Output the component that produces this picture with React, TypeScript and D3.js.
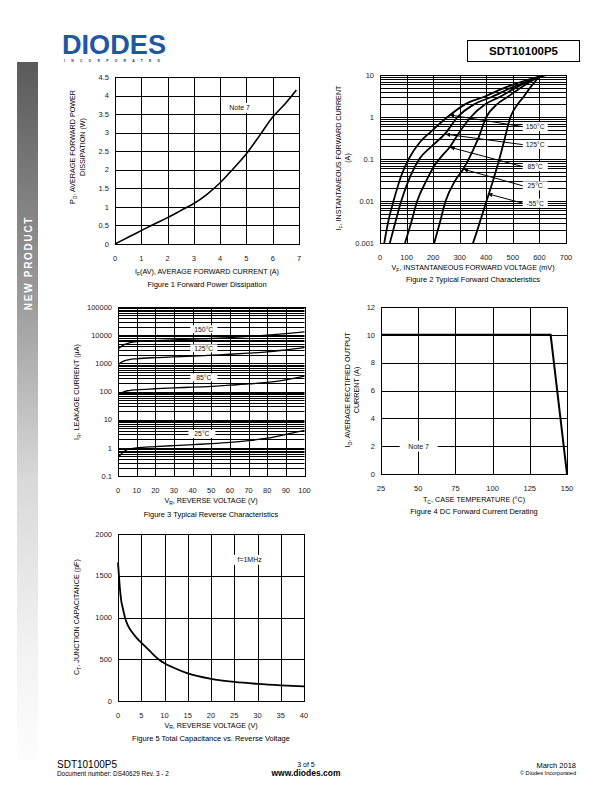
import React from "react";
import * as d3 from "d3";

const FONT = "'Liberation Sans', Arial, Helvetica, sans-serif";

// ---- Figure 1: forward power dissipation
const pdCurrent = [0, 0.5, 1, 1.5, 2, 2.5, 3, 3.5, 4, 4.5, 5, 5.5, 6, 6.5, 6.9];
const pdPower = [0, 0.18, 0.36, 0.54, 0.71, 0.9, 1.09, 1.34, 1.65, 2.03, 2.43, 2.92, 3.42, 3.8, 4.15];
const pdXTicks = [0, 1, 2, 3, 4, 5, 6, 7];
const pdYTicks = [0, 0.5, 1, 1.5, 2, 2.5, 3, 3.5, 4, 4.5];

// ---- Figure 2: forward characteristics (mV, A)
const vfTicks = [0, 100, 200, 300, 400, 500, 600, 700];
const ifTicks = [0.001, 0.01, 0.1, 1, 10];
const vf150 = [16, 30, 51, 80, 108, 150, 192, 254, 320, 390, 470, 550, 625];
const if150 = [0.001, 0.003, 0.01, 0.04, 0.1, 0.25, 0.45, 1, 2, 3, 5, 7.5, 10];
const vf125 = [37, 57, 80, 115, 148, 194, 245, 292, 354, 420, 495, 565, 620];
const if125 = [0.001, 0.003, 0.01, 0.04, 0.1, 0.2, 0.4, 1, 2, 3, 5, 7.5, 10];
const vf85 = [94, 117, 140, 174, 205, 234, 262, 295, 342, 396, 450, 512, 570, 615];
const if85 = [0.001, 0.003, 0.01, 0.03, 0.07, 0.12, 0.19, 0.4, 1, 2, 3, 5, 7.5, 10];
const vf25 = [204, 225, 247, 282, 313, 343, 369, 400, 440, 480, 530, 575, 610];
const if25 = [0.001, 0.003, 0.01, 0.03, 0.057, 0.13, 0.3, 1, 2, 3, 5, 7.5, 10];
const vfm55 = [350, 366, 381, 405, 425, 445, 466, 491, 518, 540, 565, 588, 605];
const ifm55 = [0.001, 0.002, 0.004, 0.012, 0.03, 0.08, 0.25, 1, 2, 3, 5, 7.5, 10];
const fwdNames = ["150°C", "125°C", "85°C", "25°C", "-55°C"];
const fwdLabelV = [537, 537, 537, 537, 537];
const fwdLabelI = [0.59, 0.22, 0.066, 0.023, 0.0089];
const fwdTipV = [262, 247, 264, 315, 406];
const fwdTipI = [1.12, 0.39, 0.19, 0.057, 0.0148];

// ---- Figure 3: reverse characteristics (V, uA)
const vrTicks = [0, 10, 20, 30, 40, 50, 60, 70, 80, 90, 100];
const irTicks = [0.1, 1, 10, 100, 1000, 10000, 100000];
const vrPts = [0, 3, 6, 10, 20, 30, 40, 50, 60, 70, 80, 90, 100];
const ir150 = [3200, 4500, 5300, 5900, 6400, 6800, 7200, 7600, 8200, 9000, 10000, 11300, 13000];
const ir125 = [900, 1200, 1350, 1450, 1600, 1700, 1800, 1950, 2100, 2300, 2550, 3000, 3600];
const ir85 = [75, 98, 108, 115, 125, 135, 142, 152, 168, 185, 210, 260, 350];
const ir25 = [0.45, 0.72, 0.92, 1.0, 1.1, 1.2, 1.3, 1.4, 1.55, 1.8, 2.2, 3.0, 4.2];
const revNames = ["150°C", "125°C", "85°C", "25°C"];
const revLabelV = [46, 46, 46, 45];
const revLabelI = [16200, 3400, 316, 3.1];

// ---- Figure 4: derating
const tcTicks = [25, 50, 75, 100, 125, 150];
const ioTicks = [0, 2, 4, 6, 8, 10, 12];
const deratTemp = [25, 139, 150];
const deratCurrent = [10, 10, 0];

// ---- Figure 5: capacitance
const ctVTicks = [0, 5, 10, 15, 20, 25, 30, 35, 40];
const ctTicks = [0, 500, 1000, 1500, 2000];
const ctVolt = [0, 0.3, 0.7, 1, 1.5, 2, 3, 4, 5, 6, 7, 8, 9, 10, 12, 15, 20, 25, 30, 35, 40];
const ctCap = [1660, 1420, 1200, 1120, 1000, 920, 825, 755, 700, 645, 590, 535, 488, 452, 398, 330, 265, 228, 205, 188, 175];

function logGrid(lo: number, hi: number) {
  const out: number[] = [];
  for (let e = Math.round(Math.log10(lo)); e < Math.round(Math.log10(hi)); e++) {
    for (let k = 1; k <= 9; k++) out.push(k * Math.pow(10, e));
  }
  out.push(hi);
  return out;
}

const snap = (v: number) => Math.round(v) + 0.5;

function Axes({ x, y, xGrid, yGrid, xTicks, yTicks, xFmt, yFmt, box }: any) {
  const [x0, x1] = x.range();
  const [y0, y1] = y.range();
  return (
    <g>
      {xGrid.map((v: number, i: number) => (
        <line key={"gx" + i} x1={snap(x(v))} x2={snap(x(v))} y1={y1} y2={y0} stroke="#000" strokeWidth={1} />
      ))}
      {yGrid.map((v: number, i: number) => (
        <line key={"gy" + i} x1={x0} x2={x1} y1={snap(y(v))} y2={snap(y(v))} stroke="#000" strokeWidth={1} />
      ))}
      {box}
      <rect x={snap(x0)} y={snap(y1)} width={Math.round(x1 - x0)} height={Math.round(y0 - y1)} fill="none" stroke="#000" strokeWidth={1} />
      {xTicks.map((v: number, i: number) => (
        <text key={"tx" + i} x={x(v)} y={y0 + 17} fontSize={7.5} textAnchor="middle" fill="#222">{xFmt ? xFmt(v) : v}</text>
      ))}
      {yTicks.map((v: number, i: number) => (
        <text key={"ty" + i} x={x0 - 6} y={y(v) + 2.7} fontSize={7.5} textAnchor="end" fill="#222">{yFmt ? yFmt(v) : v}</text>
      ))}
    </g>
  );
}

function LabelBox({ cx, cy, w, h, text, size = 7 }: any) {
  return (
    <g>
      <rect x={cx - w / 2} y={cy - h / 2} width={w} height={h} fill="#fff" />
      <text x={cx} y={cy + size * 0.36} fontSize={size} textAnchor="middle" fill="#111">{text}</text>
    </g>
  );
}

function Sub({ a, b, c }: any) {
  return (
    <>
      {a}
      <tspan fontSize={5} dy={1.8}>{b}</tspan>
      <tspan dy={-1.8}>{c}</tspan>
    </>
  );
}

export default function App() {
  // Figure 1
  const x1 = d3.scaleLinear().domain([0, 7]).range([115, 299]);
  const y1 = d3.scaleLinear().domain([0, 4.5]).range([244, 77]);
  const line1 = d3.line<number>().x((d) => x1(d)).y((_, i) => y1(pdPower[i])).curve(d3.curveMonotoneX);

  // Figure 2
  const x2 = d3.scaleLinear().domain([0, 700]).range([380, 566]);
  const y2 = d3.scaleLog().domain([0.001, 10]).range([243, 75]);
  const fwdSeries = [
    [vf150, if150],
    [vf125, if125],
    [vf85, if85],
    [vf25, if25],
    [vfm55, ifm55],
  ];
  const fwdPath = (v: number[], c: number[]) =>
    d3.line<number>().x((d) => x2(d)).y((_, i) => y2(c[i])).curve(d3.curveMonotoneX)(v) || "";

  // Figure 3
  const x3 = d3.scaleLinear().domain([0, 100]).range([118, 304.5]);
  const y3 = d3.scaleLog().domain([0.1, 100000]).range([476, 307]);
  const revSeries = [ir150, ir125, ir85, ir25];
  const revPath = (c: number[]) =>
    d3.line<number>().x((d) => x3(d)).y((_, i) => y3(c[i])).curve(d3.curveMonotoneX)(vrPts) || "";

  // Figure 4
  const x4 = d3.scaleLinear().domain([25, 150]).range([381, 567]);
  const y4 = d3.scaleLinear().domain([0, 12]).range([474, 307]);
  const line4 = d3.line<number>().x((d) => x4(d)).y((_, i) => y4(deratCurrent[i]));

  // Figure 5
  const x5 = d3.scaleLinear().domain([0, 40]).range([118, 304]);
  const y5 = d3.scaleLinear().domain([0, 2000]).range([701, 534]);
  const line5 = d3.line<number>().x((d) => x5(d)).y((_, i) => y5(ctCap[i])).curve(d3.curveMonotoneX);

  const logFmt = (v: number) => String(+v.toPrecision(3));

  return (
    <svg width={612} height={792} viewBox="0 0 612 792" style={{ position: "absolute", left: 0, top: 0, background: "#fff" }} fontFamily={FONT}>
      <defs>
        <linearGradient id="side" x1="0" y1="0" x2="0" y2="1">
          <stop offset="0" stopColor="#5a5a5a" />
          <stop offset="0.35" stopColor="#9e9e9e" />
          <stop offset="0.6" stopColor="#d9d9d9" />
          <stop offset="0.85" stopColor="#f3f3f3" />
          <stop offset="1" stopColor="#fdfdfd" />
        </linearGradient>
        <marker id="ah" viewBox="0 0 6 6" refX="6" refY="3" markerWidth="4.5" markerHeight="4.5" orient="auto">
          <path d="M0,0 L6,3 L0,6 z" fill="#000" />
        </marker>
        <clipPath id="c2"><rect x={380} y={75} width={186} height={168} /></clipPath>
        <clipPath id="c3"><rect x={118} y={307} width={187} height={169} /></clipPath>
      </defs>
      <rect width={612} height={792} fill="#fff" />

      {/* header */}
      <text x={62} y={53.5} fontSize={28} fontWeight="bold" fill="#1f56a8" textLength={104} lengthAdjust="spacingAndGlyphs">DIODES</text>
      <text x={64} y={61.5} fontSize={3.4} fontWeight="bold" fill="#1a2d5a" textLength={96} lengthAdjust="spacing">INCORPORATED</text>
      <rect x={467.5} y={40.5} width={112} height={21} fill="none" stroke="#000" strokeWidth={1} />
      <text x={523.5} y={55} fontSize={11.5} fontWeight="bold" textAnchor="middle">SDT10100P5</text>

      {/* side bar */}
      <rect x={17} y={62} width={21} height={698} fill="url(#side)" />
      <text transform="translate(31.5,263) rotate(-90)" fontSize={10} fontWeight="bold" fill="#fff" textAnchor="middle" letterSpacing={1.7}>NEW PRODUCT</text>

      {/* Figure 1 */}
      <Axes x={x1} y={y1} xGrid={pdXTicks} yGrid={pdYTicks} xTicks={pdXTicks} yTicks={pdYTicks}
        box={<LabelBox cx={x1(4.74)} cy={y1(3.67)} w={26} h={10} text="Note 7" />} />
      <path d={line1(pdCurrent) || ""} fill="none" stroke="#000" strokeWidth={1.6} />
      <text transform="translate(75,147) rotate(-90)" fontSize={7.2} textAnchor="middle"><Sub a="P" b="D" c=", AVERAGE FORWARD POWER" /></text>
      <text transform="translate(84.5,147) rotate(-90)" fontSize={7.2} textAnchor="middle">DISSIPATION (W)</text>
      <text x={207} y={274} fontSize={7.2} textAnchor="middle"><Sub a="I" b="F" c="(AV), AVERAGE FORWARD CURRENT (A)" /></text>
      <text x={207} y={286.5} fontSize={7.5} textAnchor="middle">Figure 1 Forward Power Dissipation</text>

      {/* Figure 2 */}
      <Axes x={x2} y={y2} xGrid={vfTicks} yGrid={logGrid(0.001, 10)} xTicks={vfTicks} yTicks={ifTicks} yFmt={logFmt}
        box={fwdNames.map((n, i) => (
          <LabelBox key={n} cx={x2(fwdLabelV[i]) + 12.5} cy={y2(fwdLabelI[i])} w={25} h={9} text={n} size={6.8} />
        ))} />
      <g clipPath="url(#c2)">
        {fwdSeries.map((s, i) => (
          <path key={i} d={fwdPath(s[0], s[1])} fill="none" stroke="#000" strokeWidth={1.8} />
        ))}
      </g>
      {fwdNames.map((n, i) => (
        <line key={n} x1={x2(fwdLabelV[i])} y1={y2(fwdLabelI[i])} x2={x2(fwdTipV[i])} y2={y2(fwdTipI[i])} stroke="#000" strokeWidth={1} markerEnd="url(#ah)" />
      ))}
      <text transform="translate(341,158) rotate(-90)" fontSize={7.2} textAnchor="middle"><Sub a="I" b="F" c=", INSTANTANEOUS FORWARD CURRENT" /></text>
      <text transform="translate(350,158) rotate(-90)" fontSize={7.2} textAnchor="middle">(A)</text>
      <text x={473} y={270} fontSize={7.2} textAnchor="middle"><Sub a="V" b="F" c=", INSTANTANEOUS FORWARD VOLTAGE (mV)" /></text>
      <text x={473} y={282} fontSize={7.5} textAnchor="middle">Figure 2 Typical Forward Characteristics</text>

      {/* Figure 3 */}
      <Axes x={x3} y={y3} xGrid={vrTicks} yGrid={logGrid(0.1, 100000)} xTicks={vrTicks} yTicks={irTicks} yFmt={logFmt}
        box={revNames.map((n, i) => (
          <LabelBox key={n} cx={x3(revLabelV[i])} cy={y3(revLabelI[i])} w={27} h={8} text={n} size={6.8} />
        ))} />
      <g clipPath="url(#c3)">
        {revSeries.map((s, i) => (
          <path key={i} d={revPath(s)} fill="none" stroke="#000" strokeWidth={1.3} />
        ))}
      </g>
      <text transform="translate(79,392) rotate(-90)" fontSize={7.2} textAnchor="middle"><Sub a="I" b="R" c=", LEAKAGE CURRENT (µA)" /></text>
      <text x={211} y={503} fontSize={7.2} textAnchor="middle"><Sub a="V" b="R" c=", REVERSE VOLTAGE (V)" /></text>
      <text x={211} y={516.5} fontSize={7.5} textAnchor="middle">Figure 3 Typical Reverse Characteristics</text>

      {/* Figure 4 */}
      <Axes x={x4} y={y4} xGrid={tcTicks} yGrid={ioTicks} xTicks={tcTicks} yTicks={ioTicks}
        box={<LabelBox cx={x4(50.3)} cy={y4(2)} w={38} h={11} text="Note 7" />} />
      <path d={line4(deratTemp) || ""} fill="none" stroke="#000" strokeWidth={2} />
      <text transform="translate(350,390) rotate(-90)" fontSize={7.2} textAnchor="middle"><Sub a="I" b="O" c=", AVERAGE RECTIFIED OUTPUT" /></text>
      <text transform="translate(359,390) rotate(-90)" fontSize={7.2} textAnchor="middle">CURRENT (A)</text>
      <text x={474} y={502} fontSize={7.2} textAnchor="middle"><Sub a="T" b="C" c=", CASE TEMPERATURE (°C)" /></text>
      <text x={474} y={514} fontSize={7.5} textAnchor="middle">Figure 4 DC Forward Current Derating</text>

      {/* Figure 5 */}
      <Axes x={x5} y={y5} xGrid={ctVTicks} yGrid={ctTicks} xTicks={ctVTicks} yTicks={ctTicks}
        box={<LabelBox cx={x5(28.3)} cy={y5(1690)} w={32} h={10} text="f=1MHz" />} />
      <path d={line5(ctVolt) || ""} fill="none" stroke="#000" strokeWidth={1.8} />
      <text transform="translate(79,617) rotate(-90)" fontSize={7.2} textAnchor="middle"><Sub a="C" b="T" c=", JUNCTION CAPACITANCE (pF)" /></text>
      <text x={211} y={727.5} fontSize={7.2} textAnchor="middle"><Sub a="V" b="R" c=", REVERSE VOLTAGE (V)" /></text>
      <text x={211} y={741} fontSize={7.5} textAnchor="middle">Figure 5 Total Capacitance vs. Reverse Voltage</text>

      {/* footer */}
      <text x={57} y={768} fontSize={10}>SDT10100P5</text>
      <text x={57} y={776} fontSize={6.4}>Document number: DS40629 Rev. 3 - 2</text>
      <text x={306} y={767} fontSize={7} textAnchor="middle">3 of 5</text>
      <text x={306} y={776} fontSize={8.5} fontWeight="bold" textAnchor="middle">www.diodes.com</text>
      <text x={576} y={768} fontSize={7.5} textAnchor="end">March 2018</text>
      <text x={576} y={775} fontSize={5.6} textAnchor="end">© Diodes Incorporated</text>
    </svg>
  );
}
